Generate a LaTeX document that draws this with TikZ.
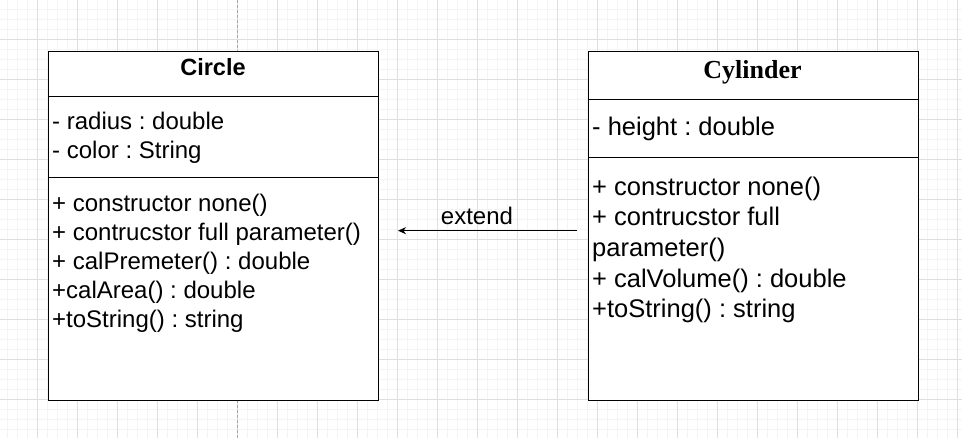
\documentclass[tikz,border=0pt]{standalone}
\usepackage{fontspec}
\setmainfont{Liberation Sans}
\newfontfamily\timesbold{Liberation Serif}
\usetikzlibrary{arrows.meta}
\frenchspacing
\definecolor{gridmajor}{RGB}{223,223,223}
\definecolor{gridminor}{RGB}{244,244,244}
\definecolor{guidegray}{RGB}{165,165,165}
\tikzset{
  classbox/.style={draw, fill=white, line width=1pt, minimum width=330pt, anchor=north west, inner sep=0pt},
  membertext/.style={anchor=north west, inner sep=0pt, align=left, font=\fontsize{24}{29}\selectfont},
  bigmember/.style={membertext, font=\fontsize{25.5}{30.7}\selectfont},
}

\begin{document}
\begin{tikzpicture}[x=1pt,y=-1pt]
\useasboundingbox (0,0) rectangle (962,438);
\fill[white] (0,0) rectangle (962,438);

% Background grid
\foreach \gx in {7,17,...,957} \draw[gridminor, line width=1pt] (\gx,0) -- (\gx,438);
\foreach \gy in {10,20,...,430} \draw[gridminor, line width=1pt] (0,\gy) -- (962,\gy);
\foreach \gx in {37,77,...,957} \draw[gridmajor, line width=1pt] (\gx,0) -- (\gx,438);
\foreach \gy in {0,40,...,400} \draw[gridmajor, line width=1pt] (0,\gy) -- (962,\gy);
\draw[guidegray, line width=1pt, dash pattern=on 3pt off 2pt] (237,0) -- (237,438);

% Circle class
\node[classbox, minimum height=45pt] (circTitle) at (48,51) {};
\node[classbox, minimum height=81pt] (circAttrs) at (48,96) {};
\node[classbox, minimum height=223pt] (circOps) at (48,177) {};
\node[anchor=base, inner sep=0pt, font=\fontsize{23.5}{28}\selectfont\bfseries] (circName) at (213,76) {Circle};
\node[membertext] (circFields) at (52,108.7) {\strut- radius : double\\\strut- color : String};
\node[membertext] (circMethods) at (52,191.4) {\strut+ constructor none()\\\strut+ contrucstor full parameter()\\\strut+ calPremeter() : double\\\strut+calArea() : double\\\strut+toString() : string};

% Cylinder class
\node[classbox, minimum height=48pt] (cylTitle) at (587.5,51) {};
\node[classbox, minimum height=58pt] (cylAttrs) at (587.5,99) {};
\node[classbox, minimum height=243pt] (cylOps) at (587.5,157) {};
\node[anchor=base, inner sep=0pt, font=\fontsize{26}{31}\timesbold\bfseries] (cylName) at (752.5,78.3) {Cylinder};
\node[bigmember] (cylFields) at (592,114.2) {\strut- height : double};
\node[bigmember] (cylMethods) at (592,173.5) {\strut+ constructor none()\\\strut+ contrucstor full\\\strut parameter()\\\strut+ calVolume() : double\\\strut+toString() : string};

% Inheritance arrow
\coordinate (extFrom) at (577,230.7);
\coordinate (extTo) at (398,230.7);
\draw[-{Stealth[length=8pt, width=7pt, inset=2.5pt]}, line width=1pt] (extFrom) -- (extTo);
\node[anchor=base, inner sep=0pt, font=\fontsize{24}{29}\selectfont] (extendLabel) at (477,225) {extend};
\end{tikzpicture}
\end{document}
